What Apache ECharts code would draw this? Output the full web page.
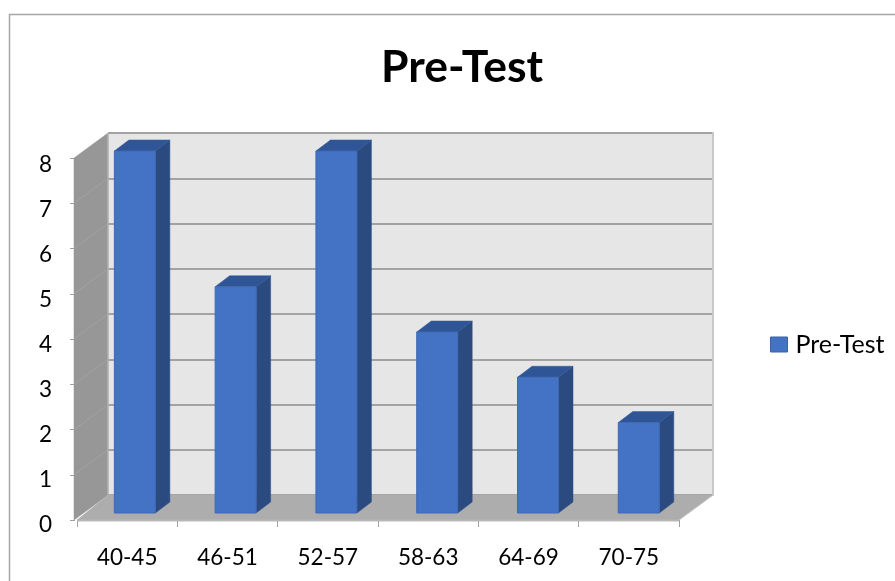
<!DOCTYPE html>
<html>
<head>
<meta charset="utf-8">
<style>html,body{margin:0;padding:0;background:#fff}#c{width:895px;height:581px;filter:blur(0.4px)}</style>
<script src="https://cdn.jsdelivr.net/npm/echarts@6/dist/echarts.min.js"></script>
</head>
<body>
<div id="c"></div>
<script>
const titleText = 'Pre-Test';
const seriesName = 'Pre-Test';
const categories = ['40-45','46-51','52-57','58-63','64-69','70-75'];
const values = [8,5,8,4,3,2];
const valueTicks = [0,1,2,3,4,5,6,7,8];

const wallDx = 31, wallDy = -25;      // depth of the box
const barShiftX = 7.7, barShiftY = -7, barDrift = 0.45; // bar position on the floor
const barW = 41, barDx = 14.5, barDy = -11; // bar size
const FONT = 'Lato';

const chart = echarts.init(document.getElementById('c'), null, {renderer:'canvas'});

function poly(points, fill, stroke, lw){
  return {type:'polygon', shape:{points}, style:{fill, stroke: stroke||fill, lineWidth: lw==null?0.5:lw}};
}
function renderWalls(params, api){
  const idx = params.dataIndex;
  const v = api.value(1);
  const y = api.coord([0, v])[1];
  const cs = params.coordSys;
  const x0 = cs.x, xEnd = cs.x + cs.width;
  const xL = x0 - 3;
  const children = [];
  const yTop = api.coord([0,8])[1], yBot = api.coord([0,0])[1];
  if (idx === 0) {
    children.push(poly([[xL,yTop],[x0+wallDx,yTop+wallDy],[x0+wallDx,yBot+wallDy],[xL,yBot]],'#979797','#979797'));
    children.push(poly([[x0,yBot],[x0+wallDx,yBot+wallDy],[xEnd+wallDx+3,yBot+wallDy],[xEnd,yBot]],'#adadad','#adadad'));
    children.push({type:'line',shape:{x1:x0,y1:yBot+0.5,x2:xEnd,y2:yBot+0.5},style:{stroke:'#b8b8b8',lineWidth:2}});
    children.push({type:'line',shape:{x1:xEnd,y1:yBot,x2:xEnd+wallDx+3,y2:yBot+wallDy},style:{stroke:'#c4c4c4',lineWidth:1}});
    children.push({type:'line',shape:{x1:x0+wallDx,y1:yTop+wallDy,x2:x0+wallDx,y2:yBot+wallDy},style:{stroke:'#b4b4b4',lineWidth:1.5}});
  }
  if (v > 0 && v < 8) {
    children.push({type:'line',shape:{x1:xL,y1:y,x2:x0+wallDx,y2:y+wallDy},style:{stroke:'#a2a2a2',lineWidth:1}});
  }
  return {type:'group',children};
}
function renderBar(params, api){
  const base = api.coord([api.value(0),0]);
  const top = api.coord([api.value(0),api.value(1)]);
  const l = base[0]-barW/2+barShiftX+barDrift*params.dataIndex, r = l+barW;
  const b = base[1]+barShiftY, t = top[1]+barShiftY;
  return {type:'group',children:[
    poly([[r,t],[r+barDx,t+barDy],[r+barDx,b+barDy],[r,b]],'#2a4a80','#2f5288'),
    poly([[l,t],[l+barDx,t+barDy],[r+barDx,t+barDy],[r,t]],'#2f5597','#2f5597'),
    poly([[l,t],[r,t],[r,b],[l,b]],'#4472c4','#3f69b5',1)
  ]};
}

chart.setOption({
  animation:false,
  backgroundColor:'#fff',
  textStyle:{fontFamily:FONT},
  title:{text:titleText,left:381,top:45,textStyle:{fontFamily:FONT,fontWeight:'bold',fontSize:44.5,color:'#000'},padding:0},
  legend:{
    left:770,top:332,padding:0,itemWidth:17,itemHeight:15,itemGap:0,
    data:[{name:seriesName,icon:'rect',itemStyle:{color:'#4472c4',borderColor:'#3a62a8',borderWidth:1}}],
    textStyle:{fontFamily:FONT,fontSize:25,color:'#000',padding:[0,0,0,3]}
  },
  grid:[
    {left:77,right:216,top:158,bottom:61,show:false},
    {left:108,right:182,top:133,bottom:86,show:true,backgroundColor:'#e6e6e6',borderWidth:0},
    {left:77,right:216,top:165,bottom:56,show:false}
  ],
  xAxis:[
    {type:'category',gridIndex:0,data:categories,
     axisLine:{show:false},
     axisTick:{show:true,length:7,lineStyle:{color:'#a0a0a0',width:1}},
     axisLabel:{fontFamily:FONT,fontSize:22.5,color:'#000',margin:26},splitLine:{show:false}},
    {type:'category',gridIndex:1,data:categories,axisLine:{show:false},axisTick:{show:false},axisLabel:{show:false},splitLine:{show:false}},
    {type:'category',gridIndex:2,data:categories,show:false}
  ],
  yAxis:[
    {type:'value',gridIndex:0,min:0,max:8,interval:1,offset:2,
     axisLine:{show:false},
     axisTick:{show:true,length:5,lineStyle:{color:'#a0a0a0',width:1}},
     axisLabel:{show:false},splitLine:{show:false}},
    {type:'value',gridIndex:1,min:0,max:8,interval:1,position:'right',
     axisLine:{show:true,lineStyle:{color:'#c8c8c8',width:2}},axisTick:{show:false},axisLabel:{show:false},
     splitLine:{show:true,lineStyle:{color:'#a3a3a3',width:2}}},
    {type:'value',gridIndex:2,min:0,max:8,interval:1,offset:2,
     axisLine:{show:false},axisTick:{show:false},
     axisLabel:{fontFamily:FONT,fontSize:22.5,color:'#000',margin:23},splitLine:{show:false}}
  ],
  series:[
    {type:'custom',name:'walls',coordinateSystem:'cartesian2d',xAxisIndex:0,yAxisIndex:0,z:1,
     renderItem:renderWalls,silent:true,encode:{x:0,y:1},
     data:valueTicks.map(v=>[0,v])},
    {type:'custom',name:seriesName,coordinateSystem:'cartesian2d',xAxisIndex:0,yAxisIndex:0,z:3,
     renderItem:renderBar,encode:{x:0,y:1},itemStyle:{color:'#4472c4'},
     data:values.map((v,i)=>[i,v])}
  ],
  graphic:[{type:'polyline',z:0,silent:true,shape:{points:[[9.5,581],[9.5,14.5],[895,14.5]]},style:{fill:null,stroke:'#a6a6a6',lineWidth:1.5}}]
});
</script>
</body>
</html>
